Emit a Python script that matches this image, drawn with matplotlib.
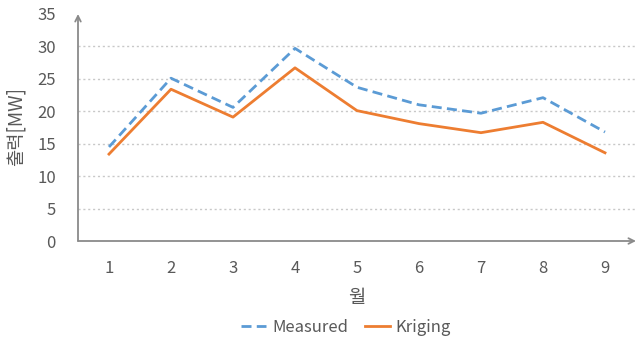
import matplotlib
matplotlib.use("Agg")
import matplotlib.pyplot as plt

plt.rcParams['font.family'] = ['Noto Sans CJK KR', 'DejaVu Sans']

months = [1, 2, 3, 4, 5, 6, 7, 8, 9]
measured = [14.5, 25.1, 20.6, 29.7, 23.7, 21.0, 19.7, 22.1, 16.8]
kriging = [13.4, 23.4, 19.1, 26.7, 20.1, 18.1, 16.7, 18.3, 13.6]
y_ticks = [0, 5, 10, 15, 20, 25, 30, 35]

text_color = '#595959'
axis_color = '#8a8a8a'

fig = plt.figure(figsize=(6.39, 3.40), dpi=100)
ax = fig.add_axes([78 / 639, 1 - 241 / 340, 558 / 639, 227 / 340])

ax.plot(months, measured, color='#5B9BD5', lw=2.0, ls=(0, (3.6, 1.9)), label='Measured')
ax.plot(months, kriging, color='#ED7D31', lw=2.0, label='Kriging')

ax.set_xlim(0.5, 9.5)
ax.set_ylim(0, 35)
ax.set_xticks(months)
ax.set_yticks(y_ticks)
ax.tick_params(axis='both', length=0, labelsize=12, colors=text_color)
ax.tick_params(axis='y', pad=16)
ax.tick_params(axis='x', pad=14)

for v in y_ticks[1:-1]:
    ax.axhline(v, color='#c8c8c8', lw=1.0, ls=(0, (1.5, 2)), zorder=0)

for s in ax.spines.values():
    s.set_visible(False)

# axis lines with arrow heads
ax.annotate('', xy=(0, 1.0), xytext=(0, 0), xycoords='axes fraction',
            arrowprops=dict(arrowstyle='->', color=axis_color, lw=1.3,
                            shrinkA=0, shrinkB=0, mutation_scale=10))
ax.annotate('', xy=(1.0, 0), xytext=(0, 0), xycoords='axes fraction',
            arrowprops=dict(arrowstyle='->', color=axis_color, lw=1.3,
                            shrinkA=0, shrinkB=0, mutation_scale=10))

fig.text(357 / 639, 1 - 297 / 340, '월', fontsize=13.5, color=text_color,
         ha='center', va='center')
fig.text(16 / 639, 1 - 126 / 340, '출력[MW]', fontsize=13.5, color=text_color,
         ha='center', va='center', rotation=90)

fig.legend(loc='center', bbox_to_anchor=(346 / 639, 1 - 327 / 340), ncol=2,
           frameon=False, fontsize=12, labelcolor=text_color,
           handlelength=1.5, columnspacing=1.0, handletextpad=0.35)

fig.savefig('out.png', dpi=100)
